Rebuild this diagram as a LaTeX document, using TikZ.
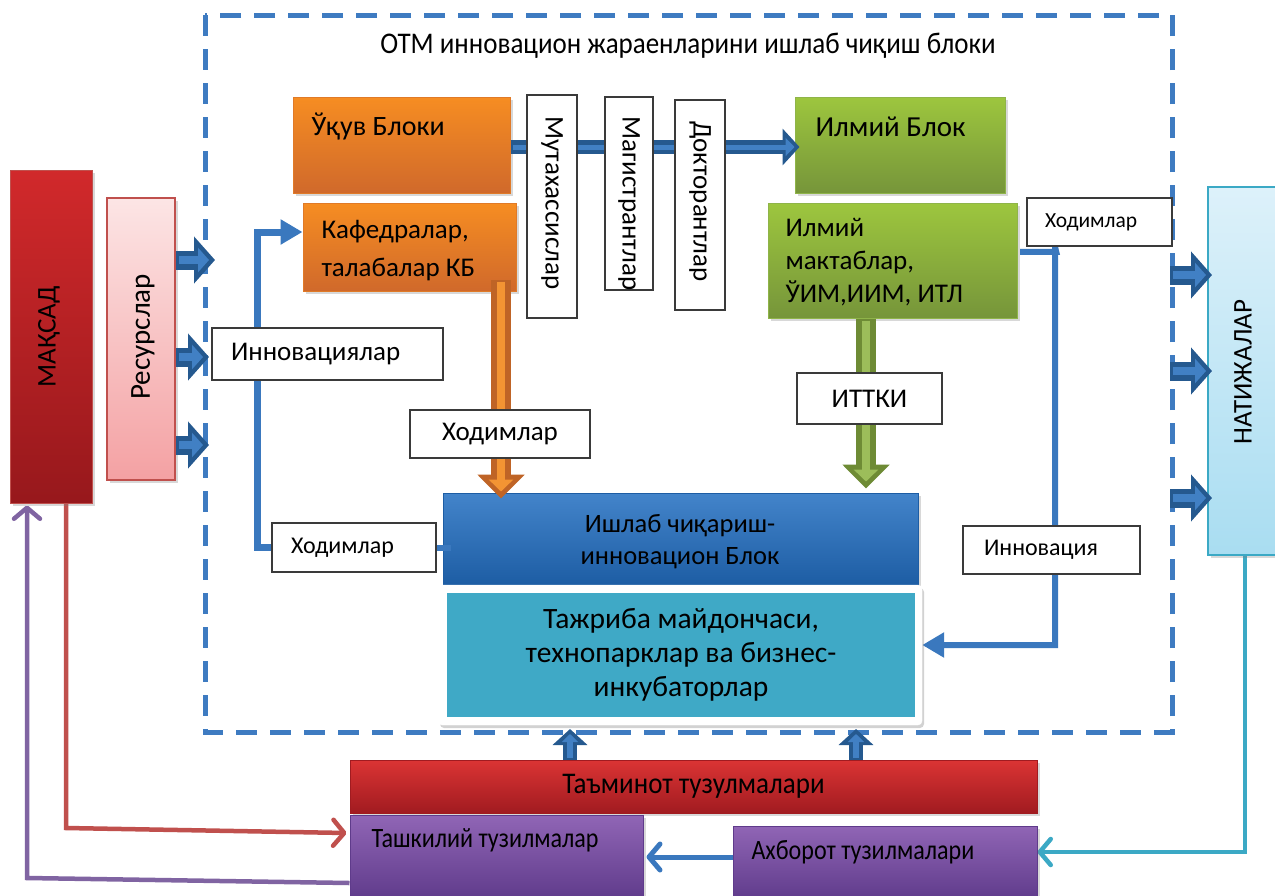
\documentclass[tikz,border=0pt]{standalone}
\usepackage{fontspec}
\setmainfont{Carlito}
\newfontfamily\condfont[FakeStretch=0.86]{Carlito}
\newfontfamily\taminfont[FakeStretch=0.9]{Carlito}
\newfontfamily\titlefont[FakeStretch=0.9]{Carlito}
\usetikzlibrary{arrows.meta,shadows}
\definecolor{dashblue}{HTML}{3E7BC1}
\definecolor{lblue}{HTML}{3A78BE}
\definecolor{fbdark}{HTML}{25598F}
\definecolor{fblight}{HTML}{4180C4}
\definecolor{orTop}{HTML}{F68D22}
\definecolor{orBot}{HTML}{D0692B}
\definecolor{orBorder}{HTML}{E07A28}
\definecolor{orDark}{HTML}{BF6426}
\definecolor{orLight}{HTML}{F39433}
\definecolor{grTop}{HTML}{9DC63E}
\definecolor{grBot}{HTML}{76953A}
\definecolor{grBorder}{HTML}{8FB449}
\definecolor{grDark}{HTML}{6E8B35}
\definecolor{grLight}{HTML}{9CBD5A}
\definecolor{blTop}{HTML}{4384CA}
\definecolor{blBot}{HTML}{1D5DA4}
\definecolor{rdTop}{HTML}{DB3434}
\definecolor{rdBot}{HTML}{A11B20}
\definecolor{mqTop}{HTML}{D1292B}
\definecolor{mqBot}{HTML}{97181C}
\definecolor{rdLine}{HTML}{C0504D}
\definecolor{pkTop}{HTML}{FCE5E5}
\definecolor{pkBot}{HTML}{F4A1A3}
\definecolor{puTop}{HTML}{9065B5}
\definecolor{puBot}{HTML}{5F3B8B}
\definecolor{puLine}{HTML}{8064A2}
\definecolor{ntTop}{HTML}{DDF1FA}
\definecolor{ntBot}{HTML}{A9DDF1}
\definecolor{teal}{HTML}{3BA9C5}
\definecolor{tajr}{HTML}{3FA9C6}
\definecolor{boxline}{HTML}{3A3A3A}
\pgfdeclarelayer{lines}
\pgfdeclarelayer{blocks}
\pgfdeclarelayer{fat}
\pgfsetlayers{lines,blocks,fat,main}
\begin{document}
\begin{tikzpicture}[x=1pt,y=-1pt,
  fA/.style={font=\fontsize{27}{32}\selectfont},
  cblk/.style={draw, line width=1pt, inner sep=0pt, drop shadow={opacity=0.3,shadow xshift=3pt,shadow yshift=-3pt}},
  orblk/.style={cblk, top color=orTop, bottom color=orBot, draw=orBorder},
  grblk/.style={cblk, top color=grTop, bottom color=grBot, draw=grBorder},
  blblk/.style={cblk, top color=blTop, bottom color=blBot, draw=blBot},
  rdblk/.style={cblk, top color=rdTop, bottom color=rdBot, draw=rdBot},
  publk/.style={cblk, top color=puTop, bottom color=puBot, draw=puBot},
  wbox/.style={draw=boxline, line width=1.6pt, fill=white, inner sep=0pt},
  wtext/.style={wbox, align=left, inner xsep=19pt, inner ysep=0pt, fA},
  thin/.style={line width=7pt, lblue},
  barb/.style={line width=4.5pt, -{Straight Barb[length=11pt,width=26pt,round]}},
  fatD/.style={line width=19pt, fbdark, -{Triangle[length=21pt,width=46pt]}},
  fatL/.style={line width=8pt, fblight, shorten <=3pt, shorten >=6pt, -{Triangle[length=11pt,width=24pt]}},
  bigD/.style={line width=14pt, fbdark, -{Triangle[length=17pt,width=36pt]}},
  bigL/.style={line width=5pt, fblight, shorten <=2pt, shorten >=5pt, -{Triangle[length=9pt,width=18pt]}},
  upD/.style={line width=14pt, fbdark, -{Triangle[length=16pt,width=34pt]}},
  upL/.style={line width=6pt, fblight, shorten <=2pt, shorten >=5pt, -{Triangle[length=8pt,width=16pt]}},
  vD/.style={line width=20pt, -{Triangle[length=24pt,width=46pt]}},
  vL/.style={line width=8pt, shorten <=2pt, shorten >=7pt, -{Triangle[length=12pt,width=24pt]}}
]
\clip (0,0) rectangle (1275,895);

% ---------- coloured blocks ----------
\begin{pgfonlayer}{blocks}
\node[cblk, top color=mqTop, bottom color=mqBot, draw=rdLine, minimum width=82pt, minimum height=333pt] (maqsad) at (51,336.5) {};
\node[cblk, top color=pkTop, bottom color=pkBot, draw=rdLine, line width=2pt, minimum width=68pt, minimum height=282pt] (resurs) at (141,339) {};
\node[orblk, minimum width=217pt, minimum height=96pt] (ukuv) at (401.5,145) {};
\node[orblk, minimum width=213pt, minimum height=88pt] (kafedra) at (409.5,247) {};
\node[grblk, minimum width=210pt, minimum height=96pt] (ilmiy) at (900,145) {};
\node[grblk, minimum width=249pt, minimum height=115pt] (maktab) at (892.5,260.5) {};
\node[cblk, top color=ntTop, bottom color=ntBot, draw=teal, line width=2pt, minimum width=82pt, minimum height=368pt] (natij) at (1249,371) {};
\node[blblk, minimum width=475pt, minimum height=92pt] (ishlab) at (680.5,539) {};
\node[draw=white, fill=white, minimum width=484pt, minimum height=140pt, rounded corners=4pt, drop shadow={opacity=0.35,shadow xshift=2pt,shadow yshift=-3pt}] (tajrout) at (680,655) {};
\node[fill=tajr, minimum width=468pt, minimum height=124pt, inner sep=0pt, align=center, font=\fontsize{29.5}{34}\selectfont] (tajr) at (681,655) {Тажриба майдончаси,\\технопарклар ва бизнес-\\инкубаторлар};
\node[rdblk, minimum width=687pt, minimum height=53pt, font=\taminfont\fontsize{30}{34}\selectfont] (tamin) at (693.5,786.5) {Таъминот тузулмалари};
\node[publk, minimum width=293pt, minimum height=85pt] (tashk) at (496.5,857.5) {};
\node[publk, minimum width=304pt, minimum height=74pt] (axbor) at (885,863) {};
\end{pgfonlayer}

% ---------- texts on coloured blocks ----------
\node[fA, rotate=90] (maqsadT) at (49,337) {МАҚСАД};
\node[rotate=90, font=\fontsize{29}{34}\selectfont] (resursT) at (143,337) {Ресурслар};
\node[anchor=west, font=\fontsize{28}{32}\selectfont] (ukuvT) at (308,127) {Ўқув Блоки};
\node[anchor=west, align=left, font=\fontsize{27}{38}\selectfont] (kafT) at (318,251) {Кафедралар,\\талабалар КБ};
\node[anchor=west, font=\fontsize{29}{34}\selectfont] (ilmiyT) at (812,127) {Илмий Блок};
\node[anchor=west, align=left, font=\fontsize{27}{33}\selectfont] (maktabT) at (782,262) {Илмий\\мактаблар,\\ЎИМ,ИИМ, ИТЛ};
\node[fA, rotate=90] (natijT) at (1243,372) {НАТИЖАЛАР};
\node[align=center, font=\fontsize{26.5}{32}\selectfont] (ishlabT) at (680,542) {Ишлаб чиқариш-\\инновацион Блок};
\node[anchor=west, font=\condfont\fontsize{28}{32}\selectfont] (tashkT) at (368,840) {Ташкилий тузилмалар};
\node[anchor=west, font=\condfont\fontsize{28}{32}\selectfont] (axborT) at (748,852) {Ахборот тузилмалари};
\node[font=\titlefont\fontsize{30}{34}\selectfont] (title) at (688,46) {ОТМ инновацион жараенларини ишлаб чиқиш блоки};

% ---------- white label boxes ----------
\node[wbox, minimum width=50pt, minimum height=223pt] (mutax) at (552,206.5) {};
\node[wbox, minimum width=48pt, minimum height=193pt] (magis) at (629,193.5) {};
\node[wbox, minimum width=50pt, minimum height=210pt] (dokt) at (700,205) {};
\node[fA, rotate=-90, anchor=west] (mutaxT) at (552,113) {Мутахассислар};
\node[fA, rotate=-90, anchor=west] (magisT) at (629,113) {Магистрантлар};
\node[fA, rotate=-90, anchor=west] (doktT) at (700,118) {Докторантлар};
\node[wtext, text width=193pt, minimum height=52pt] (innov) at (327.5,354) {Инновациялар};
\node[wbox, fA, minimum width=180pt, minimum height=48pt] (hodM) at (500,434) {Ходимлар};
\node[wbox, fA, minimum width=145pt, minimum height=51pt] (ittki) at (869.5,398.5) {ИТТКИ};
\node[wtext, text width=126pt, minimum height=49pt, font=\fontsize{24}{28}\selectfont] (hodL) at (354,547.5) {Ходимлар};
\node[wtext, inner xsep=18pt, text width=109pt, minimum height=48pt, font=\fontsize{21.5}{25}\selectfont] (hodR) at (1099.5,222) {Ходимлар};
\node[wtext, inner xsep=21pt, text width=135pt, minimum height=48pt, font=\fontsize{24}{28}\selectfont] (innovR) at (1051.5,550) {Инновация};

% ---------- free ends ----------
\coordinate (r1) at (215,260);
\coordinate (r2) at (209,357);
\coordinate (r3) at (209,445);
\coordinate (n1) at (1170,275);
\coordinate (n2) at (1170,371);
\coordinate (n3) at (1170,498);
\coordinate (u1) at (570,729);
\coordinate (u2) at (856,729);
\coordinate (lcorner) at (257,232);
\coordinate (rcorner) at (1055,645);

% ---------- thin connectors ----------
\begin{pgfonlayer}{lines}
\fill[white] (0,0) rectangle (1275,895);
\draw[dashblue, line width=5pt, dash pattern=on 21pt off 13pt] (205,15) rectangle (1172,732);
\draw[thin, -{Triangle[length=22pt,width=24pt]}] (hodL.west) -| (lcorner) -- (kafedra.west |- lcorner);
\draw[thin, line width=6pt, -{Triangle[length=22pt,width=24pt]}] ([xshift=-6pt,yshift=-5pt]hodR.south west) -- ++(36,0) -- (rcorner |- hodR.south) -- (rcorner) -- (tajrout.east |- rcorner);
\draw[teal, barb] (natij.south -| 1245,0) -- (1245,852) -- (axbor.east |- 0,852);
\draw[rdLine, barb] (maqsad.south -| 66,0) -- (66,828) -- ([xshift=-3pt]tashk.west |- 0,833);
\draw[puLine, barb] (tashk.west |- 0,883) -- (27,878) -- ([yshift=-2pt]maqsad.south -| 27,0);
\draw[lblue, barb, line width=5pt] (axbor.west |- 0,857) -- ([xshift=3pt]tashk.east |- 0,857);
\end{pgfonlayer}
\draw[thin, line width=6pt] (hodL.east) -- ([xshift=8pt]ishlab.west |- hodL.east);

% ---------- fat arrows ----------
\begin{pgfonlayer}{fat}
\foreach \s/\e in {r1/resurs, r2/resurs, r3/resurs}{
  \draw[fatD] (\e.east |- \s) -- (\s);
  \draw[fatL] (\e.east |- \s) -- (\s);
}
\foreach \s in {n1,n2,n3}{
  \draw[fatD] (\s) -- ([xshift=5pt]natij.west |- \s);
  \draw[fatL] (\s) -- ([xshift=5pt]natij.west |- \s);
}
\draw[bigD] (ukuv.east |- 0,147) -- ([xshift=5pt]ilmiy.west |- 0,147);
\draw[bigL] (ukuv.east |- 0,147) -- ([xshift=5pt]ilmiy.west |- 0,147);
\draw[vD, orDark] ([yshift=12pt]kafedra.south -| 501,0) -- ([yshift=-6pt]ishlab.north -| 501,0);
\draw[vL, orLight] ([yshift=12pt]kafedra.south -| 501,0) -- ([yshift=-6pt]ishlab.north -| 501,0);
\draw[vD, grDark] (maktab.south -| 866,0) -- ([yshift=4pt]ishlab.north -| 866,0);
\draw[vL, grLight] (maktab.south -| 866,0) -- ([yshift=4pt]ishlab.north -| 866,0);
\foreach \s in {u1,u2}{
  \draw[upD] (tamin.north -| \s) -- (\s);
  \draw[upL] (tamin.north -| \s) -- (\s);
}
\end{pgfonlayer}
\end{tikzpicture}
\end{document}
